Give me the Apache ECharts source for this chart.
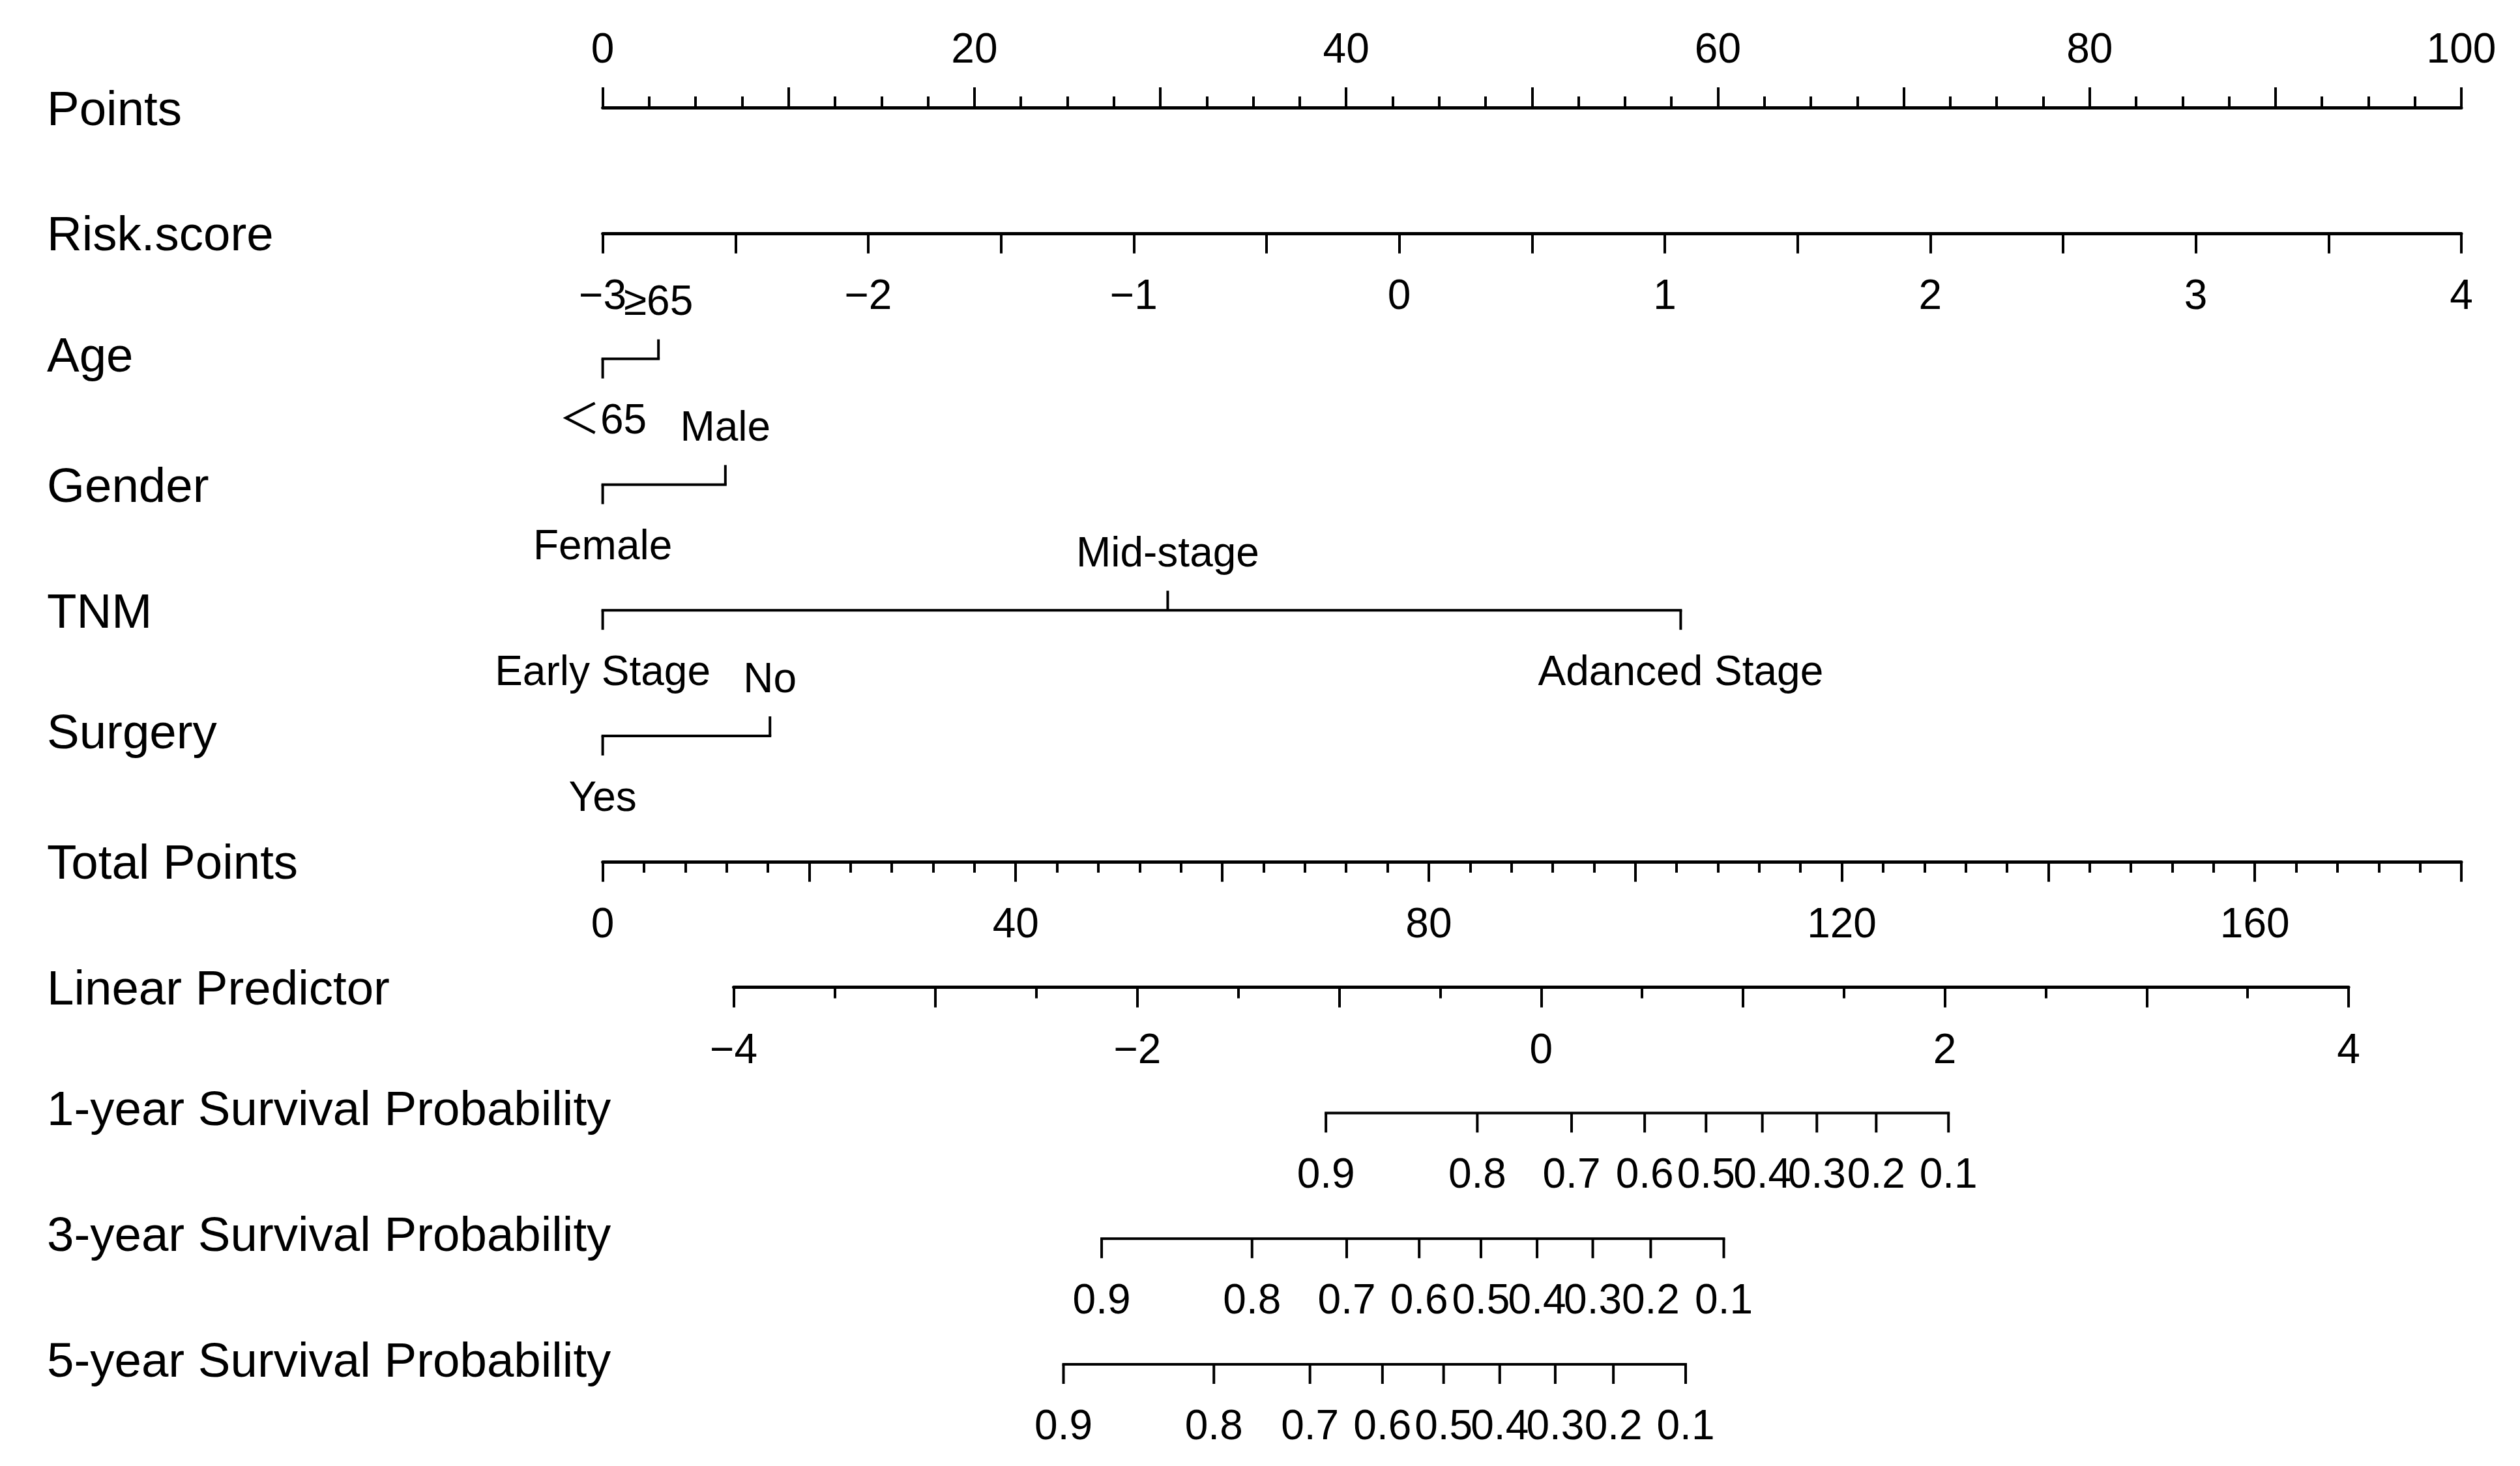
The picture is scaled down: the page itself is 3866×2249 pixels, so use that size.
<!DOCTYPE html>
<html><head><meta charset="utf-8">
<script src="https://cdn.jsdelivr.net/npm/echarts@6.0.0/dist/echarts.min.js"></script>
<style>html,body{margin:0;padding:0;background:#fff}#c{width:3866px;height:2249px}</style>
</head><body><div id="c"></div>
<script>
// ---------------- data ----------------
const rowTitles = ['Points', 'Risk.score', 'Age', 'Gender', 'TNM', 'Surgery', 'Total Points',
  'Linear Predictor', '1-year Survival Probability', '3-year Survival Probability', '5-year Survival Probability'];

const pointsRange = [0, 100];
const pointsTickStep = 10;
const pointsLabelStep = 20;

const riskScoreRange = [-3, 4];
const riskScoreTickStep = 0.5;
const riskScoreLabelStep = 1;

const ageLevels = ['＜65', '≥65'];
const agePoints = [0, 3.0];
const genderLevels = ['Female', 'Male'];
const genderPoints = [0, 6.6];
const tnmLevels = ['Early Stage', 'Mid-stage', 'Adanced Stage'];
const tnmPoints = [0, 30.4, 58.0];
const surgeryLevels = ['Yes', 'No'];
const surgeryPoints = [0, 9.0];

const totalPointsRange = [0, 180];
const totalPointsTickStep = 20;
const totalPointsLabelStep = 40;

const linearPredictorRange = [-4, 4];
const linearPredictorTickStep = 1;
const linearPredictorLabelStep = 2;

const survivalLabels = ['0.9', '0.8', '0.7', '0.6', '0.5', '0.4', '0.3', '0.2', '0.1'];
const survival1yLP = [-1.066, -0.316, 0.151, 0.513, 0.817, 1.096, 1.366, 1.660, 2.018];
const survival3yLP = [-2.177, -1.432, -0.963, -0.604, -0.298, -0.020, 0.256, 0.543, 0.905];
const survival5yLP = [-2.366, -1.621, -1.145, -0.786, -0.483, -0.205, 0.070, 0.358, 0.716];

// ---------------- layout / style ----------------
const PX0 = 924.6, PX1 = 3776;      // points-scale pixel extent
const LX0 = 1125.5, LX1 = 3603;     // linear-predictor pixel extent
const ROW_Y0 = 165, ROW_STEP = 192.8;
const rowY = i => ROW_Y0 + i * ROW_STEP;
const FONT = "'Liberation Sans', Arial, 'Noto Sans CJK SC', sans-serif";
const TICK_FS = 64, TITLE_FS = 74.5;
const LINE_W = 5, TICK_W = 4, TICK_LEN = 31, MINOR_LEN = 17;
const LABEL_OFF_BELOW = 97, LABEL_OFF_ABOVE = 85, TITLE_SHIFT = 6, DESC_SHIFT = 7.5;
const minus = s => String(s).replace('-', '\u2212');
const near = (v, s) => Math.abs(v / s - Math.round(v / s)) < 1e-6;

const grids = [], xAxes = [], yAxes = [], series = [];

function addGrid(i, x0, x1, mode) {
  const y = rowY(i);
  let top;
  if (mode === 'top') top = y;
  else if (mode === 'bottom') top = y - 20;
  else top = y - 10;
  grids.push({ left: x0, width: x1 - x0, top: top, height: 20, containLabel: false, outerBoundsMode: 'none' });
  yAxes.push({ type: 'value', gridIndex: grids.length - 1, min: -1, max: 1, show: false });
  return grids.length - 1;
}

function realAxis(gi, range, step, labelStep, position, minorSplit, fmt) {
  xAxes.push({
    type: 'value', gridIndex: gi, position: position, min: range[0], max: range[1], interval: step,
    axisLine: { show: true, onZero: false, lineStyle: { color: '#000', width: LINE_W } },
    axisTick: { show: true, length: TICK_LEN, lineStyle: { color: '#000', width: TICK_W } },
    minorTick: minorSplit ? { show: true, splitNumber: minorSplit, length: MINOR_LEN, lineStyle: { color: '#000', width: TICK_W } } : { show: false },
    splitLine: { show: false },
    axisLabel: {
      show: true, color: '#000', fontSize: TICK_FS, fontFamily: FONT,
      margin: position === 'top' ? 55 : 67, hideOverlap: false,
      showMinLabel: true, showMaxLabel: true,
      formatter: v => near(v, labelStep) ? fmt(Math.round(v / labelStep) * labelStep) : ''
    }
  });
}

function hiddenAxis(gi, range) {
  xAxes.push({ type: 'value', gridIndex: gi, min: range[0], max: range[1], show: false,
    axisLine: { onZero: false }, splitLine: { show: false } });
}

function tickRow(gi, positions, labels, sideFn) {
  const xi = xAxes.length - 1;
  const lo = Math.min.apply(null, positions), hi = Math.max.apply(null, positions);
  series.push({
    type: 'line', xAxisIndex: xi, yAxisIndex: gi, data: [[lo, 0], [hi, 0]],
    symbol: 'none', silent: true, lineStyle: { color: '#000', width: TICK_W, cap: 'square' }
  });
  series.push({
    type: 'custom', xAxisIndex: xi, yAxisIndex: gi, silent: true,
    data: positions.map(p => [p, 0]),
    renderItem: function (params, api) {
      const p = api.coord([api.value(0), 0]);
      const up = sideFn(params.dataIndex);
      const d = up ? -1 : 1;
      return {
        type: 'group', children: [
          { type: 'line', shape: { x1: p[0], y1: p[1], x2: p[0], y2: p[1] + d * (TICK_LEN - 1) },
            style: { stroke: '#000', lineWidth: TICK_W } },
          { type: 'text', x: p[0], y: p[1] + (up ? -LABEL_OFF_ABOVE : LABEL_OFF_BELOW),
            style: { text: labels[params.dataIndex], fill: '#000', fontSize: TICK_FS, fontFamily: FONT,
              align: 'center', verticalAlign: 'middle' } }
        ]
      };
    }
  });
}

// Row 0: Points
let g = addGrid(0, PX0, PX1, 'top');
realAxis(g, pointsRange, pointsTickStep, pointsLabelStep, 'top', 4, v => String(v));
// Row 1: Risk.score
g = addGrid(1, PX0, PX1, 'bottom');
realAxis(g, riskScoreRange, riskScoreTickStep, riskScoreLabelStep, 'bottom', 0, v => minus(v));
// Rows 2-5: categorical predictors on points scale
const alt = i => i % 2 === 1;   // alternate below / above like the R nomogram
[[ageLevels, agePoints], [genderLevels, genderPoints], [tnmLevels, tnmPoints], [surgeryLevels, surgeryPoints]]
  .forEach((lv, k) => {
    const gi = addGrid(2 + k, PX0, PX1, 'mid');
    hiddenAxis(gi, pointsRange);
    tickRow(gi, lv[1], lv[0], alt);
  });
// Row 6: Total Points
g = addGrid(6, PX0, PX1, 'bottom');
realAxis(g, totalPointsRange, totalPointsTickStep, totalPointsLabelStep, 'bottom', 5, v => String(v));
// Row 7: Linear Predictor
g = addGrid(7, LX0, LX1, 'bottom');
realAxis(g, linearPredictorRange, linearPredictorTickStep, linearPredictorLabelStep, 'bottom', 2, v => minus(v));
// Rows 8-10: survival probabilities on linear predictor scale
[survival1yLP, survival3yLP, survival5yLP].forEach((lp, k) => {
  const gi = addGrid(8 + k, LX0, LX1, 'mid');
  hiddenAxis(gi, linearPredictorRange);
  tickRow(gi, lp, survivalLabels, () => false);
});

// row titles are centred on their ink, so those with descenders sit a little higher
const graphics = rowTitles.map((t, i) => ({
  type: 'text', x: 72, y: rowY(i) + TITLE_SHIFT - (/[gjpqy]/.test(t) ? DESC_SHIFT : 0), silent: true,
  style: { text: t, fill: '#000', fontSize: TITLE_FS, fontFamily: FONT, align: 'left', verticalAlign: 'middle' }
}));

const chart = echarts.init(document.getElementById('c'), null, { renderer: 'canvas' });
chart.setOption({
  animation: false,
  backgroundColor: '#fff',
  grid: grids, xAxis: xAxes, yAxis: yAxes, series: series,
  graphic: graphics
});
</script></body></html>
